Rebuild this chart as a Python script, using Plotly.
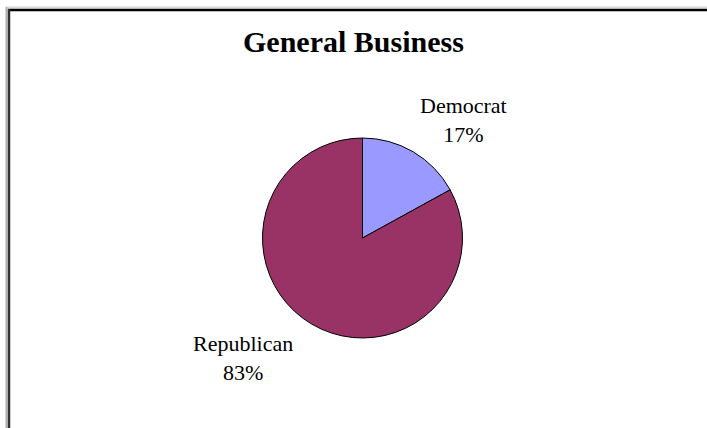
import plotly.graph_objects as go

# Party split of contributions
parties = ["Democrat", "Republican"]
shares = [17, 83]
colors = ["#9999FF", "#993366"]

W, H = 707, 428

# Pie placement (pixels) -> paper domain
cx, cy, r = 362.5, 238, 100
dom_x = [(cx - r) / W, (cx + r) / W]
dom_y = [1 - (cy + r) / H, 1 - (cy - r) / H]

fig = go.Figure(
    go.Pie(
        labels=parties,
        values=shares,
        marker=dict(colors=colors, line=dict(color="#000000", width=1)),
        sort=False,
        direction="clockwise",
        rotation=0,
        textinfo="none",
        hoverinfo="label+percent",
        showlegend=False,
        domain=dict(x=dom_x, y=dom_y),
    )
)

label_font = dict(family="Liberation Serif, Times New Roman, serif", size=22, color="#000000")
label_pos = {"Democrat": (463, 120), "Republican": (243, 358)}
annotations = []
for name, val in zip(parties, shares):
    px, py = label_pos[name]
    annotations.append(
        dict(
            x=px / W, y=1 - py / H, xref="paper", yref="paper",
            text=f"{name}<br>{val}%", showarrow=False, align="center",
            font=label_font, xanchor="center", yanchor="middle",
        )
    )

annotations.append(
    dict(
        x=353.5 / W, y=1 - 41 / H, xref="paper", yref="paper",
        text="<b>General Business</b>", showarrow=False,
        font=dict(family="Liberation Serif, Times New Roman, serif", size=30, color="#000000"),
        xanchor="center", yanchor="middle",
    )
)

def px_line(x0, y0, x1, y1, color, width):
    return dict(type="line", xref="paper", yref="paper",
                x0=x0 / W, y0=1 - y0 / H, x1=x1 / W, y1=1 - y1 / H,
                line=dict(color=color, width=width))

shapes = [
    px_line(6, 7.5, W, 7.5, "#d8d8d8", 2),
    px_line(6.5, 7, 6.5, H, "#b0b0b0", 2),
    px_line(8, 10, W, 10, "#000000", 2.5),
    px_line(9, 9, 9, H, "#333333", 2.5),
]

fig.update_layout(
    width=W, height=H,
    margin=dict(l=0, r=0, t=0, b=0),
    paper_bgcolor="#ffffff",
    plot_bgcolor="#ffffff",
    annotations=annotations,
    shapes=shapes,
)

fig.write_html("out.html")
